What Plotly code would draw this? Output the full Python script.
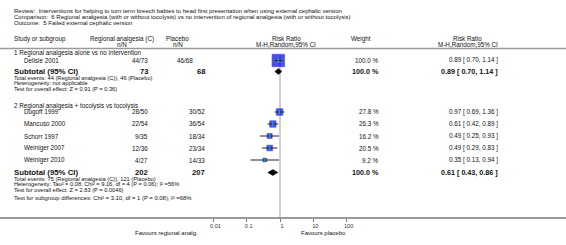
import numpy as np
import plotly.graph_objects as go

W, H = 566, 245

# ---------------- data ----------------
title_lines = [
    "Review:  Interventions for helping to turn term breech babies to head first presentation when using external cephalic version",
    "Comparison:  6 Regional analgesia (with or without tocolysis) vs no intervention of regional analgesia (with or without tocolysis)",
    "Outcome:  5 Failed external cephalic version",
]
group_titles = ["1 Regional analgesia alone vs no intervention",
                "2 Regional analgesia + tocolysis vs tocolysis"]
studies = ["Delisle 2001", "Dugoff 1999", "Mancuso 2000", "Schorr 1997", "Weiniger 2007", "Weiniger 2010"]
exp_nN = ["44/73", "28/50", "22/54", "9/35", "12/36", "4/27"]
ctl_nN = ["46/68", "30/52", "36/54", "18/34", "23/34", "14/33"]
weights = [100.0, 27.8, 26.3, 16.2, 20.5, 9.2]
rr = [0.89, 0.97, 0.61, 0.49, 0.49, 0.35]
rr_lo = [0.70, 0.69, 0.42, 0.25, 0.29, 0.13]
rr_hi = [1.14, 1.36, 0.89, 0.93, 0.83, 0.94]

sub_exp_total = [73, 202]
sub_ctl_total = [68, 207]
sub_weight = [100.0, 100.0]
sub_rr = [0.89, 0.61]
sub_lo = [0.70, 0.43]
sub_hi = [1.14, 0.86]
sub_notes = [
    ["Total events: 44 (Regional analgesia (C)), 46 (Placebo)",
     "Heterogeneity: not applicable",
     "Test for overall effect: Z = 0.91 (P = 0.36)"],
    ["Total events: 75 (Regional analgesia (C)), 121 (Placebo)",
     "Heterogeneity: Tau² = 0.08; Chi² = 9.16, df = 4 (P = 0.06); I² =56%",
     "Test for overall effect: Z = 2.83 (P = 0.0046)"],
]
overall_note = "Test for subgroup differences: Chi² = 3.10, df = 1 (P = 0.08), I² =68%"
tick_vals = [0.01, 0.1, 1, 10, 100]
tick_text = ["0.01", "0.1", "1", "10", "100"]
favours_left = "Favours regional analg."
favours_right = "Favours placebo"

# ---------------- layout positions (pixels) ----------------
X1_PX, DEC_PX = 280.0, 33.3
AXIS_Y = 217.0
title_y = [11, 17, 23]
hdr_y1, hdr_y2, hdr_line_y = 38.5, 44.5, 48.5
group_y = [53.5, 105.5]
study_y = [60.5, 112, 124, 136, 148, 160]
sub_y = [71.5, 172.5]
note_dy = [6.0, 11.7, 17.4]
overall_y = 197.5
fav_y = 233

FONT = "Liberation Sans, Arial, Helvetica, sans-serif"
fig = go.Figure()

cx, cy = [], []
for l, h, y in zip(rr_lo, rr_hi, study_y):
    cx += [l, h, None]
    cy += [y, y, None]

sizes = [12.5 * np.sqrt(w / 100.0) for w in weights]
fig.add_trace(go.Scatter(x=rr, y=study_y, mode="markers",
                         marker=dict(symbol="square", size=sizes, color="#0000ff",
                                     line=dict(color="#0000b0", width=0.6)),
                         hoverinfo="skip", showlegend=False))
fig.add_trace(go.Scatter(x=cx, y=cy, mode="lines", line=dict(color="#222222", width=1),
                         hoverinfo="skip", showlegend=False))
fig.add_trace(go.Scatter(x=rr, y=study_y, mode="markers",
                         marker=dict(symbol="line-ns-open", size=3, line=dict(color="#000", width=1)),
                         hoverinfo="skip", showlegend=False))

for e, l, h, y in zip(sub_rr, sub_lo, sub_hi, sub_y):
    fig.add_trace(go.Scatter(x=[l, e, h, e, l], y=[y, y - 3, y, y + 3, y], mode="lines",
                             fill="toself", fillcolor="#000", line=dict(color="#000", width=0.5),
                             hoverinfo="skip", showlegend=False))

fig.add_shape(type="line", xref="x", yref="y", x0=1, x1=1, y0=55, y1=AXIS_Y,
              line=dict(color="#d0d0d0", width=2), layer="below")
fig.add_shape(type="line", xref="paper", yref="y", x0=0, x1=1, y0=hdr_line_y, y1=hdr_line_y,
              line=dict(color="#999999", width=1.5))

anns = []


def ann(text, xpx, ypx, size=6.3, anchor="left", bold=False, color="#111"):
    if bold:
        text = "<b>" + text + "</b>"
    anns.append(dict(text=text, x=xpx / W, y=1 - ypx / H, xref="paper", yref="paper",
                     xanchor=anchor, yanchor="middle", showarrow=False,
                     font=dict(family=FONT, size=size, color=color), borderpad=0))


for t, y in zip(title_lines, title_y):
    ann(t, 13, y, size=6.0)

ann("Study or subgroup", 13, hdr_y1)
ann("Regional analgesia (C)", 122, hdr_y1, anchor="center")
ann("n/N", 122, hdr_y2, anchor="center")
ann("Placebo", 177, hdr_y1, anchor="center")
ann("n/N", 177.5, hdr_y2, anchor="center")
ann("Risk Ratio", 286, hdr_y1, anchor="center")
ann("M-H,Random,95% CI", 286, hdr_y2, anchor="center")
ann("Weight", 361, hdr_y1, anchor="center")
ann("Risk Ratio", 467.5, hdr_y1, anchor="center")
ann("M-H,Random,95% CI", 467.5, hdr_y2, anchor="center")

for g, y in zip(group_titles, group_y):
    ann(g, 13, y)

for i, (s, e, c, w, r, l, h, y) in enumerate(zip(studies, exp_nN, ctl_nN, weights, rr, rr_lo, rr_hi, study_y)):
    ann(s, 23, y)
    ann(e, 149, y, anchor="right")
    ann(c, 194 if i == 0 else 206, y, anchor="right")
    ann(f"{w:.1f} %", 380, y, anchor="right")
    ann(f"{r:.2f} [ {l:.2f}, {h:.2f} ]", 499, y, anchor="right")

for k, y in enumerate(sub_y):
    ann("Subtotal (95% CI)", 13, y, size=7.8, bold=True)
    ann(str(sub_exp_total[k]), 149, y, size=7.6, anchor="right", bold=True)
    ann(str(sub_ctl_total[k]), 206, y, size=7.6, anchor="right", bold=True)
    ann(f"{sub_weight[k]:.1f} %", 380, y, size=7.2, anchor="right", bold=True)
    ann(f"{sub_rr[k]:.2f} [ {sub_lo[k]:.2f}, {sub_hi[k]:.2f} ]", 499, y, size=7.2, anchor="right", bold=True)
    for note, dy in zip(sub_notes[k], note_dy):
        ann(note, 13, y + dy, size=5.7)

ann(overall_note, 13, overall_y, size=5.9)
ann(favours_left, 199, fav_y, size=6.0, anchor="right")
ann(favours_right, 300, fav_y, size=6.0, anchor="left")

x_lo = (0 - X1_PX) / DEC_PX
x_hi = (W - X1_PX) / DEC_PX

fig.update_layout(
    width=W, height=H, autosize=False,
    margin=dict(l=0, r=0, t=0, b=0, pad=0),
    paper_bgcolor="white", plot_bgcolor="white",
    annotations=anns,
    xaxis=dict(type="log", range=[x_lo, x_hi], domain=[0, 1],
               showgrid=False, zeroline=False, showline=True,
               linecolor="#999999", linewidth=1.5,
               ticks="outside", ticklen=3, tickwidth=1, tickcolor="#777",
               tickvals=tick_vals, ticktext=tick_text,
               tickfont=dict(family=FONT, size=5.6, color="#333"),
               ticklabelshift=2, fixedrange=True),
    yaxis=dict(range=[AXIS_Y, 0], domain=[(H - AXIS_Y) / H, 1], visible=False, fixedrange=True),
    showlegend=False,
)

fig.write_html("out.html", config={"displayModeBar": False},
               post_script="document.body.style.margin='0';document.body.style.overflow='hidden';")
